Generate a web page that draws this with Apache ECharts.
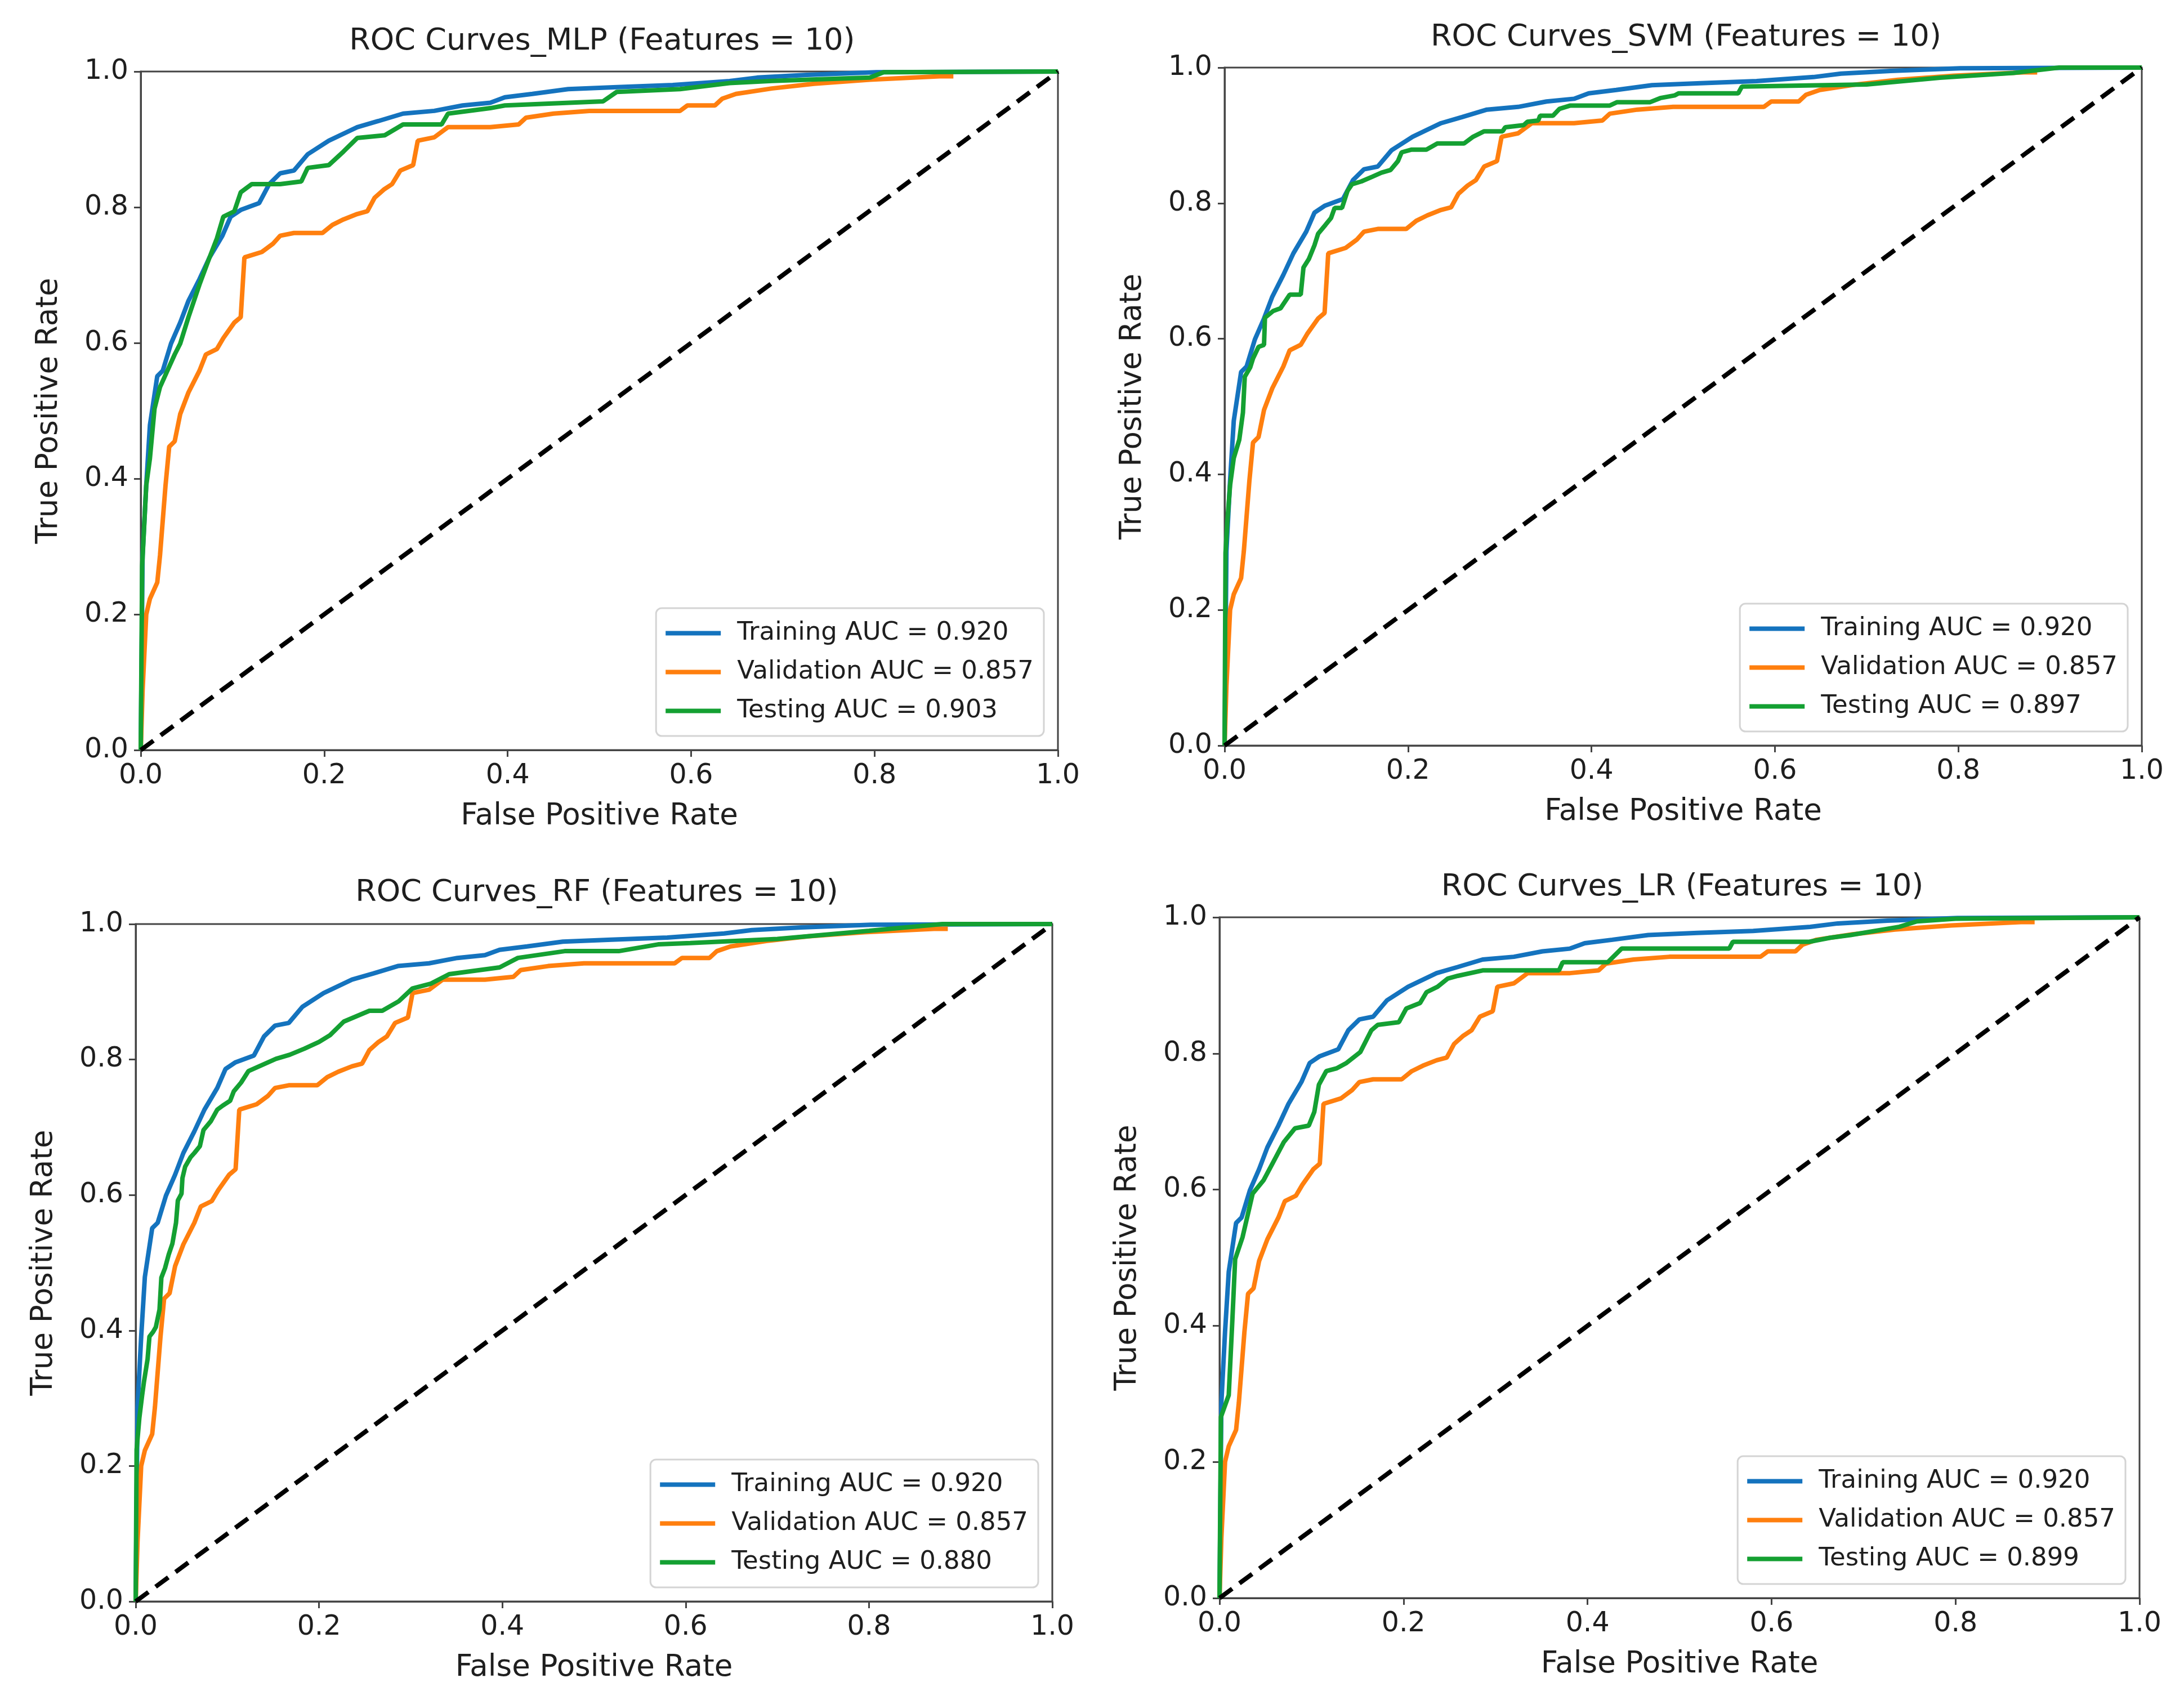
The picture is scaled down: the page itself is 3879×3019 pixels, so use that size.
<!DOCTYPE html>
<html>
<head>
<meta charset="utf-8">
<script src="https://cdn.jsdelivr.net/npm/echarts@6/dist/echarts.min.js"></script>
<style>
  html, body { margin: 0; padding: 0; background: #fff; }
  #roc-panels { width: 3879px; height: 3019px; }
</style>
</head>
<body>
<div id="roc-panels"></div>
<script>
// ROC points: [false positive rate, true positive rate]
var trainingRoc = [[0,0],[0.002,0.287],[0.006,0.391],[0.010,0.479],[0.018,0.551],[0.024,0.559],[0.033,0.599],
	[0.043,0.630],[0.052,0.662],[0.064,0.694],[0.075,0.726],[0.089,0.758],[0.098,0.786],[0.109,0.796],[0.129,0.806],
	[0.140,0.834],[0.152,0.850],[0.167,0.854],[0.182,0.878],[0.205,0.898],[0.236,0.918],[0.259,0.927],[0.286,0.938],
	[0.320,0.942],[0.351,0.950],[0.381,0.954],[0.397,0.962],[0.427,0.967],[0.466,0.974],[0.519,0.977],[0.580,0.980],
	[0.642,0.986],[0.672,0.991],[0.726,0.995],[0.802,0.999],[1,1]];

var validationRoc = [[0,0],[0.002,0.088],[0.006,0.200],[0.010,0.223],[0.018,0.247],[0.021,0.287],[0.027,0.390],
	[0.031,0.447],[0.037,0.455],[0.043,0.495],[0.052,0.527],[0.064,0.559],[0.071,0.583],[0.083,0.591],[0.090,0.607],
	[0.102,0.630],[0.109,0.638],[0.113,0.726],[0.132,0.734],[0.144,0.746],[0.152,0.758],[0.167,0.762],[0.198,0.762],
	[0.209,0.774],[0.221,0.782],[0.236,0.790],[0.247,0.794],[0.255,0.814],[0.265,0.826],[0.274,0.834],[0.283,0.854],
	[0.297,0.862],[0.302,0.898],[0.320,0.903],[0.335,0.918],[0.381,0.918],[0.412,0.922],[0.420,0.932],[0.450,0.938],
	[0.489,0.942],[0.588,0.942],[0.596,0.950],[0.626,0.950],[0.634,0.960],[0.649,0.967],[0.688,0.975],[0.734,0.982],
	[0.795,0.988],[0.871,0.993],[0.886,0.993]];

var testingMlp = [[0,0],[0.0015,0.271],[0.006,0.390],[0.010,0.430],[0.015,0.503],[0.021,0.535],[0.029,0.559],
	[0.037,0.583],[0.043,0.599],[0.052,0.638],[0.064,0.686],[0.075,0.726],[0.083,0.754],[0.090,0.786],[0.102,0.794],
	[0.109,0.822],[0.121,0.834],[0.152,0.834],[0.175,0.838],[0.182,0.858],[0.205,0.862],[0.221,0.882],[0.236,0.902],
	[0.266,0.906],[0.286,0.922],[0.328,0.922],[0.335,0.938],[0.381,0.946],[0.397,0.950],[0.504,0.956],[0.519,0.970],
	[0.588,0.974],[0.642,0.983],[0.688,0.986],[0.795,0.991],[0.810,0.999],[1,1]];

var testingSvm = [[0,0],[0.001,0.284],[0.003,0.331],[0.006,0.384],[0.010,0.424],[0.016,0.451],[0.020,0.491],
	[0.022,0.544],[0.028,0.558],[0.031,0.571],[0.037,0.588],[0.043,0.591],[0.044,0.631],[0.053,0.641],[0.061,0.645],
	[0.071,0.665],[0.083,0.665],[0.086,0.705],[0.092,0.718],[0.098,0.738],[0.102,0.755],[0.110,0.768],[0.116,0.778],
	[0.120,0.793],[0.128,0.793],[0.134,0.818],[0.139,0.828],[0.149,0.832],[0.161,0.839],[0.171,0.845],[0.181,0.849],
	[0.189,0.862],[0.193,0.875],[0.204,0.879],[0.220,0.879],[0.232,0.888],[0.261,0.888],[0.271,0.898],[0.283,0.906],
	[0.303,0.906],[0.306,0.912],[0.326,0.915],[0.330,0.920],[0.342,0.922],[0.344,0.929],[0.358,0.929],[0.365,0.939],
	[0.377,0.944],[0.420,0.944],[0.428,0.949],[0.464,0.949],[0.475,0.955],[0.491,0.959],[0.495,0.962],[0.560,0.962],
	[0.564,0.972],[0.700,0.975],[0.780,0.985],[0.860,0.992],[0.910,1.0],[1,1]];

var testingRf = [[0,0],[0.001,0.224],[0.004,0.271],[0.007,0.304],[0.009,0.324],[0.013,0.358],[0.015,0.391],
	[0.019,0.398],[0.022,0.405],[0.026,0.431],[0.028,0.478],[0.032,0.492],[0.036,0.512],[0.040,0.528],[0.044,0.559],
	[0.046,0.592],[0.050,0.602],[0.051,0.625],[0.054,0.642],[0.060,0.656],[0.064,0.662],[0.070,0.672],[0.074,0.696],
	[0.082,0.709],[0.089,0.726],[0.095,0.732],[0.103,0.739],[0.107,0.753],[0.115,0.766],[0.123,0.783],[0.133,0.789],
	[0.153,0.801],[0.168,0.807],[0.184,0.816],[0.200,0.826],[0.212,0.836],[0.227,0.856],[0.255,0.872],[0.269,0.872],
	[0.287,0.886],[0.302,0.905],[0.322,0.912],[0.342,0.926],[0.397,0.936],[0.417,0.950],[0.468,0.960],[0.527,0.960],
	[0.570,0.970],[0.605,0.972],[0.700,0.978],[0.800,0.990],[0.880,1.0],[1,1]];

var testingLr = [[0,0],[0.0015,0.266],[0.010,0.298],[0.014,0.410],[0.017,0.498],[0.025,0.530],[0.036,0.594],
	[0.048,0.614],[0.059,0.642],[0.070,0.670],[0.082,0.690],[0.097,0.694],[0.103,0.714],[0.108,0.754],[0.116,0.774],
	[0.127,0.778],[0.138,0.786],[0.153,0.802],[0.165,0.834],[0.172,0.842],[0.195,0.846],[0.203,0.866],[0.218,0.874],
	[0.225,0.890],[0.237,0.898],[0.248,0.910],[0.259,0.914],[0.286,0.922],[0.369,0.922],[0.373,0.934],[0.422,0.934],
	[0.437,0.954],[0.554,0.954],[0.558,0.964],[0.641,0.964],[0.664,0.970],[0.686,0.974],[0.739,0.986],[0.758,0.994],
	[0.800,0.998],[1,1]];

var chanceLine = [[0,0],[1,1]];

var modelNames = ['MLP', 'SVM', 'RF', 'LR'];
var testingSets = [testingMlp, testingSvm, testingRf, testingLr];
var trainingAuc = '0.920';
var validationAuc = '0.857';
var testingAuc = ['0.903', '0.897', '0.880', '0.899'];
var tickLabels = ['0.0', '0.2', '0.4', '0.6', '0.8', '1.0'];

var W = 3879, H = 3019;
var FONT = 'DejaVu Sans';
var TEXT = '#1e1e1e';
var colors = { train: '#1473be', val: '#ff7f0e', test: '#14a032' };

// plot boxes in page pixels: left, top, right, bottom
var boxes = [
	{ l: 250, t: 127, r: 1879, b: 1332, titleTop: 42 },
	{ l: 2175, t: 120, r: 3804, b: 1324, titleTop: 35 },
	{ l: 241, t: 1641, r: 1869, b: 2844, titleTop: 1554 },
	{ l: 2166, t: 1629, r: 3800, b: 2838, titleTop: 1544 }
];

var option = {
	animation: false,
	backgroundColor: '#fff',
	textStyle: { fontFamily: FONT },
	title: [], grid: [], xAxis: [], yAxis: [], legend: [], series: []
};

boxes.forEach(function (b, i) {
	var trainName = 'Training AUC = ' + trainingAuc;
	var valName = 'Validation AUC = ' + validationAuc;
	var testName = 'Testing AUC = ' + testingAuc[i];

	option.title.push({
		text: 'ROC Curves_' + modelNames[i] + ' (Features = 10)',
		left: (b.l + b.r) / 2, top: b.titleTop, textAlign: 'center',
		textStyle: { fontFamily: FONT, fontSize: 54, fontWeight: 'normal', color: TEXT }
	});
	option.grid.push({
		left: b.l, top: b.t, width: b.r - b.l, height: b.b - b.t,
		show: true, borderColor: '#444', borderWidth: 3, backgroundColor: '#fff'
	});
	option.xAxis.push({
		type: 'value', gridIndex: i, min: 0, max: 1, interval: 0.2,
		name: 'False Positive Rate', nameLocation: 'middle', nameGap: 92,
		nameTextStyle: { fontFamily: FONT, fontSize: 53, color: TEXT },
		axisLine: { show: true, lineStyle: { color: '#444', width: 3 } },
		axisTick: { show: true, length: 12, lineStyle: { color: '#444', width: 3 } },
		axisLabel: { fontFamily: FONT, fontSize: 49, color: TEXT, margin: 22,
			formatter: function (v) { return tickLabels[Math.round(v * 5)]; } },
		splitLine: { show: false }
	});
	option.yAxis.push({
		type: 'value', gridIndex: i, min: 0, max: 1, interval: 0.2,
		name: 'True Positive Rate', nameLocation: 'middle', nameGap: 136,
		nameTextStyle: { fontFamily: FONT, fontSize: 53, color: TEXT },
		axisLine: { show: true, lineStyle: { color: '#444', width: 3 } },
		axisTick: { show: true, length: 12, lineStyle: { color: '#444', width: 3 } },
		axisLabel: { fontFamily: FONT, fontSize: 49, color: TEXT, margin: 22,
			formatter: function (v) { return tickLabels[Math.round(v * 5)]; } },
		splitLine: { show: false }
	});
	option.legend.push({
		orient: 'vertical',
		right: W - b.r + 25, bottom: H - b.b + 25,
		data: [trainName, valName, testName],
		icon: 'rect', itemWidth: 98, itemHeight: 8, itemGap: 24,
		textStyle: { fontFamily: FONT, fontSize: 45, color: TEXT, padding: [0, 0, 0, 24] },
		backgroundColor: 'rgba(255,255,255,0.85)',
		borderColor: '#d4d4d4', borderWidth: 3, borderRadius: 10,
		padding: [22, 18, 22, 17]
	});

	var curves = [
		{ name: trainName, data: trainingRoc, color: colors.train },
		{ name: valName, data: validationRoc, color: colors.val },
		{ name: testName, data: testingSets[i], color: colors.test }
	];
	curves.forEach(function (c) {
		option.series.push({
			type: 'line', name: c.name, xAxisIndex: i, yAxisIndex: i,
			data: c.data, showSymbol: false, symbol: 'none',
			itemStyle: { color: c.color },
			lineStyle: { color: c.color, width: 8 },
			z: 3
		});
	});
	option.series.push({
		type: 'line', xAxisIndex: i, yAxisIndex: i,
		data: chanceLine, showSymbol: false, symbol: 'none',
		lineStyle: { color: '#000', width: 8, type: [28, 16] },
		z: 4
	});
});

var rocChart = echarts.init(document.getElementById('roc-panels'));
rocChart.setOption(option);
</script>
</body>
</html>
